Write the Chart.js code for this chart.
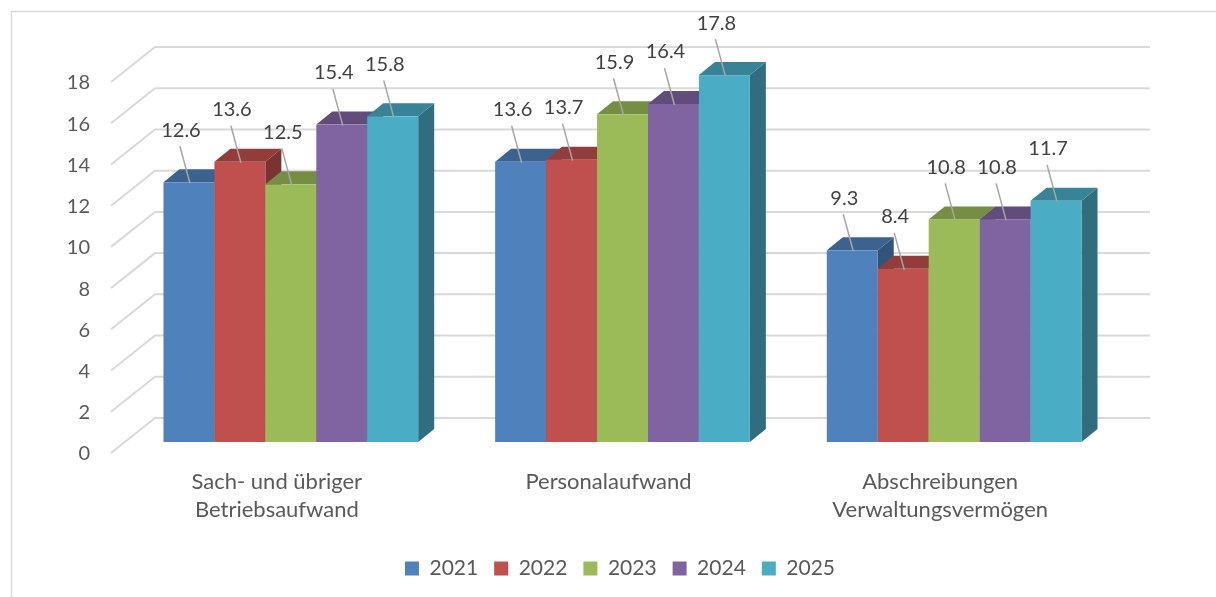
<!DOCTYPE html>
<html>
<head>
<meta charset="utf-8">
<script src="https://cdn.jsdelivr.net/npm/chart.js@4.4.1/dist/chart.umd.min.js"></script>
<style>
    html, body { margin: 0; padding: 0; background: #fff; }
    #wrap { width: 1216px; height: 597px; position: relative; }
</style>
</head>
<body>
<div id="wrap"><canvas id="chart"></canvas></div>
<script>
// Data
const categories = [['Sach- und übriger', 'Betriebsaufwand'], 'Personalaufwand', ['Abschreibungen', 'Verwaltungsvermögen']];
const years = ['2021', '2022', '2023', '2024', '2025'];
const values2021 = [12.6, 13.6, 9.3];
const values2022 = [13.6, 13.7, 8.4];
const values2023 = [12.5, 15.9, 10.8];
const values2024 = [15.4, 16.4, 10.8];
const values2025 = [15.8, 17.8, 11.7];
const yMin = 0;
const yMax = 18;
const yStep = 2;

const seriesValues = [values2021, values2022, values2023, values2024, values2025];
const seriesColors = ['#4F81BD', '#C0504D', '#9BBB59', '#8064A2', '#4BACC6'];

// 3D offsets relative to the bar front plane
const FRONT = { dx: -14, dy: 11 };
const BACK = { dx: 30, dy: -24 };
const DEPTH = { dx: 16, dy: -13 };
const TEXT = '#595959';
const FONT = 'Lato, "Liberation Sans", sans-serif';

function shade(hex, f) {
    var n = parseInt(hex.slice(1), 16);
    var r = Math.round(((n >> 16) & 255) * f);
    var g = Math.round(((n >> 8) & 255) * f);
    var b = Math.round((n & 255) * f);
    return 'rgb(' + r + ',' + g + ',' + b + ')';
}

function poly(ctx, pts, fill) {
    ctx.beginPath();
    ctx.moveTo(pts[0][0], pts[0][1]);
    for (var i = 1; i < pts.length; i++) ctx.lineTo(pts[i][0], pts[i][1]);
    ctx.closePath();
    ctx.fillStyle = fill;
    ctx.fill();
}

const box3d = {
    id: 'box3d',
    beforeDraw(chart) {
        var ctx = chart.ctx;
        ctx.save();
        ctx.fillStyle = '#fff';
        ctx.fillRect(0, 0, chart.width, chart.height);
        ctx.strokeStyle = '#D9D9D9';
        ctx.lineWidth = 1.5;
        ctx.strokeRect(11.5, 11.5, chart.width + 20, chart.height + 20);
        ctx.restore();
    },
    beforeDatasetsDraw(chart) {
        var ctx = chart.ctx;
        var yScale = chart.scales.y;
        var area = chart.chartArea;
        ctx.save();

        // back wall grid + side diagonals + value axis labels on the front plane
        ctx.font = '20px ' + FONT;
        ctx.textAlign = 'right';
        ctx.textBaseline = 'middle';
        yScale.ticks.forEach(function(t) {
            var py = yScale.getPixelForValue(t.value);
            ctx.strokeStyle = '#D9D9D9';
            ctx.lineWidth = 2;
            ctx.beginPath();
            ctx.moveTo(area.left + FRONT.dx, py + FRONT.dy);
            ctx.lineTo(area.left + BACK.dx, py + BACK.dy);
            ctx.lineTo(area.right + BACK.dx, py + BACK.dy);
            ctx.stroke();
            ctx.fillStyle = TEXT;
            ctx.fillText(String(t.value), area.left - 35, py + FRONT.dy + 1);
        });

        // bars, left to right so the nearer bar hides the neighbour's side
        var metas = chart.data.datasets.map(function(d, i) { return chart.getDatasetMeta(i); });
        var nCat = chart.data.labels.length;
        for (var j = 0; j < nCat; j++) {
            for (var i = 0; i < metas.length; i++) {
                var bar = metas[i].data[j];
                var col = chart.data.datasets[i].backgroundColor;
                var l = bar.x - bar.width / 2, r = bar.x + bar.width / 2;
                var top = bar.y, base = bar.base;
                poly(ctx, [[r, top], [r + DEPTH.dx, top + DEPTH.dy], [r + DEPTH.dx, base + DEPTH.dy], [r, base]], shade(col, 0.64));
                poly(ctx, [[l, top], [l + DEPTH.dx, top + DEPTH.dy], [r + DEPTH.dx, top + DEPTH.dy], [r, top]], shade(col, 0.76));
                ctx.fillStyle = col;
                ctx.fillRect(l, top, r - l, base - top);
            }
        }

        // data labels with leader lines
        ctx.textAlign = 'center';
        for (var i = 0; i < metas.length; i++) {
            metas[i].data.forEach(function(bar, j) {
                var v = chart.data.datasets[i].data[j];
                var lx = bar.x - 8, ly = bar.y - 52;
                ctx.strokeStyle = '#A6A6A6';
                ctx.lineWidth = 1.5;
                ctx.beginPath();
                ctx.moveTo(lx - 1, ly + 16);
                ctx.lineTo(bar.x + 1, bar.y + 1);
                ctx.stroke();
                ctx.fillStyle = '#404040';
                ctx.fillText(v.toFixed(1), lx, ly);
            });
        }
        ctx.restore();
        return false;
    }
};

const datasets = years.map(function(y, i) {
    return {
        label: y,
        data: seriesValues[i],
        backgroundColor: seriesColors[i],
        borderWidth: 0
    };
});

new Chart(document.getElementById('chart'), {
    type: 'bar',
    data: { labels: categories, datasets: datasets },
    plugins: [box3d],
    options: {
        responsive: true,
        maintainAspectRatio: false,
        animation: false,
        layout: { padding: { left: 120, right: 96, top: 71, bottom: 8 } },
        datasets: { bar: { barPercentage: 1, categoryPercentage: 0.768 } },
        plugins: {
            tooltip: { enabled: false },
            legend: {
                position: 'bottom',
                labels: {
                    boxWidth: 14,
                    boxHeight: 14,
                    padding: 16,
                    color: TEXT,
                    font: { family: FONT, size: 21 }
                }
            }
        },
        scales: {
            x: {
                grid: { display: false },
                border: { display: false },
                afterFit: function(s) { s.height = 100; },
                ticks: {
                    color: TEXT,
                    font: { family: FONT, size: 22, lineHeight: 1.27 },
                    labelOffset: -14,
                    padding: 18,
                    maxRotation: 0,
                    autoSkip: false
                }
            },
            y: {
                min: yMin,
                max: yMax,
                grid: { display: false },
                border: { display: false },
                afterFit: function(s) { s.width = 5; },
                ticks: { stepSize: yStep, display: false }
            }
        }
    }
});
</script>
</body>
</html>
